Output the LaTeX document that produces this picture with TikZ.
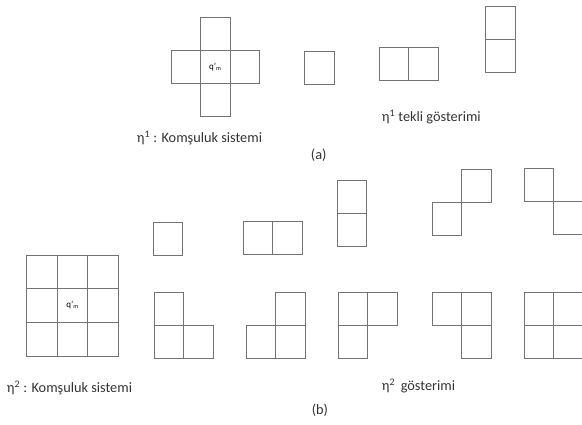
\documentclass[tikz,border=0pt]{standalone}
\usepackage{fontspec}
\setmainfont{Carlito}
\usetikzlibrary{positioning}
\newcommand{\qm}{{\fontsize{9}{10}\selectfont q'\textsubscript{m}}}

\begin{document}
\begin{tikzpicture}[
  x=1pt, y=-1pt,
  node distance=0pt,
  cell/.style={rectangle, draw=black!55, line width=0.75pt, minimum width=29.5pt,
               minimum height=33pt, inner sep=0pt, outer sep=0pt},
  bigcell/.style={cell, minimum width=30.5pt, minimum height=33.7pt},
  lbl/.style={font=\fontsize{14.3}{16}\selectfont, text=black!80, inner sep=0pt}
]
\useasboundingbox (0,0) rectangle (582,425);

% (a) Neighbourhood system eta^1
\node[cell] (ac) at (215.2,67.2) {\qm};
\node[cell, above=of ac] (an) {};
\node[cell, below=of ac] (as) {};
\node[cell, left=of ac] (aw) {};
\node[cell, right=of ac] (ae) {};

% (a) Single representation
\node[cell] (a1) at (319.3,67.7) {};
\node[cell] (a2l) at (394,64.3) {};
\node[cell, right=of a2l] (a2r) {};
\node[cell] (a3t) at (500.3,23.3) {};
\node[cell, below=of a3t] (a3b) {};

% (a) Labels
\node[lbl, anchor=west] (anbr) at (136.7,137.7) {η\textsuperscript{1} : Komşuluk sistemi};
\node[lbl] (acap) at (318.7,155) {(a)};
\node[lbl, anchor=west] (arep) at (381.7,116.7) {η\textsuperscript{1} tekli gösterimi};

% (b) Neighbourhood system eta^2
\foreach \c in {0,1,2}
  \foreach \r in {0,1,2}
    \node[bigcell] (g\c\r) at ({42+30.5*\c},{271.8+33.7*\r}) {};
\node (gq) at (g11) {\qm};

% (b) Representation, first row
\node[cell] (b1) at (167.7,239.3) {};
\node[cell] (b2l) at (257.8,238.3) {};
\node[cell, right=of b2l] (b2r) {};
\node[cell] (b3t) at (351.8,197.2) {};
\node[cell, below=of b3t] (b3b) {};
\node[cell] (b4l) at (446.7,219.3) {};
\node[cell, above right=0pt and 0pt of b4l] (b4r) {};
\node[cell] (b5l) at (538.7,185.2) {};
\node[cell, below right=0pt and 0pt of b5l] (b5r) {};

% (b) Representation, second row
\node[cell] (c1t) at (168.7,309.2) {};
\node[cell, below=of c1t] (c1b) {};
\node[cell, right=of c1b] (c1r) {};
\node[cell] (c2t) at (290.3,309.2) {};
\node[cell, below=of c2t] (c2b) {};
\node[cell, left=of c2b] (c2l) {};
\node[cell] (c3t) at (353,309) {};
\node[cell, right=of c3t] (c3r) {};
\node[cell, below=of c3t] (c3b) {};
\node[cell] (c4t) at (446.8,308.5) {};
\node[cell, right=of c4t] (c4r) {};
\node[cell, below=of c4r] (c4b) {};
\node[cell] (c5a) at (538.8,308.5) {};
\node[cell, right=of c5a] (c5b) {};
\node[cell, below=of c5a] (c5c) {};
\node[cell, right=of c5c] (c5d) {};

% (b) Labels
\node[lbl, anchor=west] (bnbr) at (6.7,388) {η\textsuperscript{2} : Komşuluk sistemi};
\node[lbl, anchor=west] (brep) at (381.7,386) {η\textsuperscript{2}\, gösterimi};
\node[lbl] (bcap) at (320,410) {(b)};

\end{tikzpicture}
\end{document}
